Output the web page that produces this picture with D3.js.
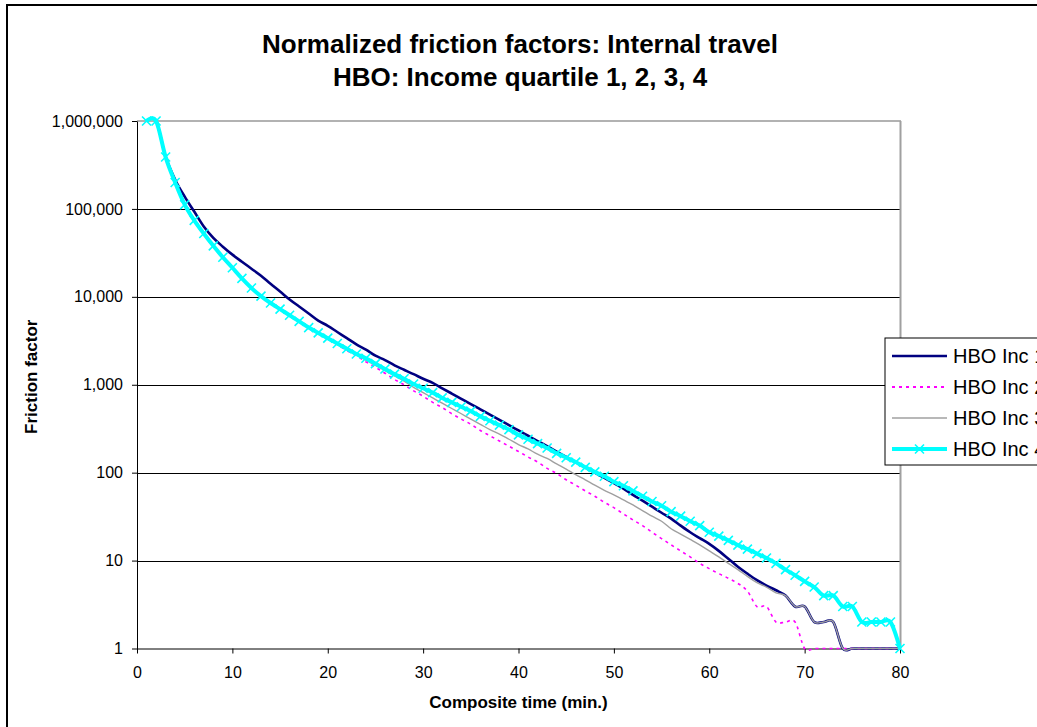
<!DOCTYPE html>
<html>
<head>
<meta charset="utf-8">
<script src="https://cdn.jsdelivr.net/npm/d3@7"></script>
<style>
  html, body { margin: 0; padding: 0; background: #fff; overflow: hidden; }
  svg { display: block; font-family: "Liberation Sans", Arial, sans-serif; }
</style>
</head>
<body>
<svg id="chart" width="1037" height="727"></svg>
<script>
// ---- Data ----
const minutes = [1,2,3,4,5,6,7,8,9,10,11,12,13,14,15,16,17,18,19,20,
  21,22,23,24,25,26,27,28,29,30,31,32,33,34,35,36,37,38,39,40,
  41,42,43,44,45,46,47,48,49,50,51,52,53,54,55,56,57,58,59,60,
  61,62,63,64,65,66,67,68,69,70,71,72,73,74,75,76,77,78,79,80];

const hboInc1 = [1000000,1000000,392000,215000,138000,93300,63100,46800,37200,30200,
  25100,20900,17400,14100,11500,9330,7760,6460,5370,4680,
  3980,3390,2880,2510,2140,1910,1660,1480,1320,1170,
  1050,912,794,692,603,525,457,398,347,302,
  263,229,200,174,151,132,115,100,87,76,
  66,56,48,41,35,30,25,21,18,15.5,
  12.9,10.5,8.5,7.1,6.0,5.2,4.6,4,3,3,
  2,2,2,1,1,1,1,1,1,1];

const hboInc2 = [1000000,1000000,385000,197000,111000,73000,52000,37500,27800,21200,
  16100,12500,10100,8450,7150,6100,5200,4430,3850,3310,
  2880,2450,2140,1820,1580,1350,1150,1000,851,741,
  631,550,468,407,355,302,263,229,200,174,
  151,132,112,98,83,72,62,54,46,40,
  34,29,25,21,17.8,15.1,12.9,11,9.3,8.1,
  7.1,6.3,5.5,4.5,3,3,2,2,2,1,
  1,1,1,1,1,1,1,1,1,1];

const hboInc3 = [1000000,1000000,380000,195000,110000,72000,51000,37000,27500,21000,
  16000,12400,10000,8400,7100,6050,5150,4400,3830,3310,
  2880,2510,2190,1910,1660,1450,1260,1100,933,813,
  708,617,537,468,407,355,309,275,240,209,
  186,162,145,126,110,95,83,72,63,56,
  49,43,37,32,28,23,20,17.4,15.1,12.9,
  11,9.3,7.9,6.6,5.6,5.0,4.3,4,3,3,
  2,2,2,1,1,1,1,1,1,1];

const hboInc4 = [1000000,1000000,389000,200000,112000,74100,52500,38000,28200,21400,
  16200,12600,10200,8510,7240,6170,5250,4470,3890,3390,
  2950,2570,2240,2000,1740,1510,1320,1170,1020,912,
  813,708,631,562,501,437,389,347,309,269,
  240,214,191,166,148,132,115,102,91,79,
  71,62,54,47,42,36,32,28,25,21,
  19,17,15,13.5,12,10.7,9.3,7.9,6.8,5.8,
  5,4,4,3,3,2,2,2,2,1];

const seriesNames = ["HBO Inc 1", "HBO Inc 2", "HBO Inc 3", "HBO Inc 4"];
const xTicks = [0,10,20,30,40,50,60,70,80];
const yTicks = [1,10,100,1000,10000,100000,1000000];
const titleLines = ["Normalized friction factors: Internal travel", "HBO: Income quartile 1, 2, 3, 4"];
const xTitle = "Composite time (min.)";
const yTitle = "Friction factor";

// ---- Styles ----
const styles = [
  { color: "#000080", width: 2.6, dash: null, marker: false },
  { color: "#FF00FF", width: 1.6, dash: "3,4", marker: false },
  { color: "#A0A0A0", width: 1.4, dash: null, marker: false },
  { color: "#00FFFF", width: 4, dash: null, marker: true }
];
const seriesData = [hboInc1, hboInc2, hboInc3, hboInc4];

const svg = d3.select("#chart");

// outer chart border
svg.append("rect").attr("x", 7).attr("y", 5).attr("width", 1100).attr("height", 800)
  .attr("fill", "#fff").attr("stroke", "#000").attr("stroke-width", 2);

const pL = 137, pR = 900, pT = 121, pB = 648.5;
const x = d3.scaleLinear().domain([0, 80]).range([pL, pR]);
const y = d3.scaleLog().domain([1, 1000000]).range([pB, pT]);

// gridlines
svg.append("g").selectAll("line").data(yTicks.filter(d => d > 1 && d < 1000000)).join("line")
  .attr("x1", pL).attr("x2", pR)
  .attr("y1", d => Math.round(y(d)) + 0.5).attr("y2", d => Math.round(y(d)) + 0.5)
  .attr("stroke", "#000").attr("stroke-width", 1);

// plot border top & right (gray)
svg.append("line").attr("x1", pL).attr("x2", pR + 1).attr("y1", y(1000000)).attr("y2", y(1000000))
  .attr("stroke", "#999").attr("stroke-width", 1.5);
svg.append("line").attr("x1", pR + 0.5).attr("x2", pR + 0.5).attr("y1", pT).attr("y2", pB)
  .attr("stroke", "#a0a0a0").attr("stroke-width", 2);

// axes
const xAxis = d3.axisBottom(x).tickValues(xTicks).tickSize(5).tickSizeOuter(0).tickPadding(13);
const yAxis = d3.axisLeft(y).tickValues(yTicks).tickFormat(d3.format(",")).tickSize(5).tickSizeOuter(0).tickPadding(9);

const gx = svg.append("g").attr("transform", `translate(0,${pB})`).call(xAxis);
const gy = svg.append("g").attr("transform", `translate(${pL},0)`).call(yAxis);
[gx, gy].forEach(g => {
  g.selectAll("path").attr("stroke", "#000").attr("stroke-width", 1);
  g.selectAll("line").attr("stroke", "#000");
  g.selectAll("text").attr("font-size", 16).attr("fill", "#000")
    .attr("font-family", "'Liberation Sans', Arial, sans-serif");
});

// series lines
const lineGen = d3.line()
  .x((d, i) => x(minutes[i]))
  .y(d => y(d))
  .curve(d3.curveCatmullRom.alpha(0));

seriesData.forEach((data, k) => {
  const s = styles[k];
  svg.append("path").datum(data)
    .attr("d", lineGen)
    .attr("fill", "none")
    .attr("stroke", s.color)
    .attr("stroke-width", s.width)
    .attr("stroke-dasharray", s.dash)
    .attr("stroke-linejoin", "round");
  if (s.marker) {
    const m = 4.5;
    svg.append("g").selectAll("path").data(data).join("path")
      .attr("d", (d, i) => {
        const cx = x(minutes[i]), cy = y(d);
        return `M${cx - m},${cy - m}L${cx + m},${cy + m}M${cx - m},${cy + m}L${cx + m},${cy - m}`;
      })
      .attr("stroke", s.color).attr("stroke-width", 1.6).attr("fill", "none");
  }
});

// titles
svg.append("g").selectAll("text").data(titleLines).join("text")
  .attr("x", 520).attr("y", (d, i) => 53 + i * 33)
  .attr("text-anchor", "middle").attr("font-size", 26).attr("font-weight", "bold")
  .text(d => d);

svg.append("text").attr("x", (pL + pR) / 2).attr("y", 708)
  .attr("text-anchor", "middle").attr("font-size", 17).attr("font-weight", "bold")
  .text(xTitle);

svg.append("text").attr("transform", `translate(37,${(pT + pB) / 2 - 8}) rotate(-90)`)
  .attr("text-anchor", "middle").attr("font-size", 17).attr("font-weight", "bold")
  .text(yTitle);

// legend
const lg = svg.append("g").attr("transform", "translate(885,338)");
lg.append("rect").attr("x", 0).attr("y", 0).attr("width", 300).attr("height", 127)
  .attr("fill", "#fff").attr("stroke", "#000").attr("stroke-width", 1);
seriesNames.forEach((name, k) => {
  const s = styles[k];
  const cy = 18 + k * 31;
  lg.append("line").attr("x1", 7).attr("x2", 62).attr("y1", cy).attr("y2", cy)
    .attr("stroke", s.color).attr("stroke-width", k === 1 ? 2.2 : s.width)
    .attr("stroke-dasharray", s.dash);
  if (s.marker) {
    const m = 4.5, cx = 34.5;
    lg.append("path")
      .attr("d", `M${cx - m},${cy - m}L${cx + m},${cy + m}M${cx - m},${cy + m}L${cx + m},${cy - m}`)
      .attr("stroke", s.color).attr("stroke-width", 1.6);
  }
  lg.append("text").attr("x", 68).attr("y", cy + 7).attr("font-size", 20).text(name);
});
</script>
</body>
</html>
